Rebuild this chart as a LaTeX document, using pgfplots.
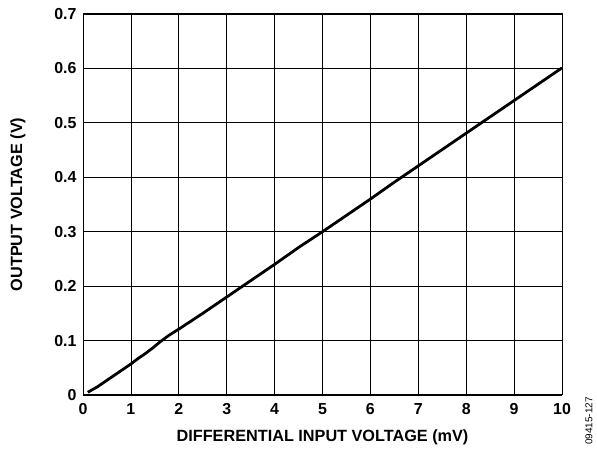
\documentclass[border=0pt]{standalone}
\usepackage{fontspec}
\setmainfont{Liberation Sans}
\usepackage{pgfplots}
\pgfplotsset{compat=1.18}

\begin{document}
\begin{tikzpicture}[x=1bp,y=1bp]
\useasboundingbox (-83,-54) rectangle (514,395);
\begin{axis}[
    scale only axis,
    width=479bp,
    height=381bp,
    at={(0,0)},
    anchor=south west,
    xmin=0, xmax=10,
    ymin=0, ymax=0.7,
    xtick={0,1,...,10},
    ytick={0,0.1,...,0.7},
    xticklabels={0,1,2,3,4,5,6,7,8,9,10},
    yticklabels={0,0.1,0.2,0.3,0.4,0.5,0.6,0.7},
    grid=major,
    grid style={black, line width=0.8pt},
    axis line style={black, line width=1pt},
    major tick length=0pt,
    tick label style={font=\fontsize{16}{18}\selectfont\bfseries},
    xticklabel style={yshift=-5bp},
    yticklabel style={xshift=-3bp},
    xlabel={DIFFERENTIAL INPUT VOLTAGE (mV)},
    ylabel={OUTPUT VOLTAGE (V)},
    label style={font=\fontsize{16.3}{18}\selectfont\bfseries},
    xlabel style={at={(axis description cs:0.5,-0.1102)}, anchor=center},
    ylabel style={at={(axis description cs:-0.1357,0.5)}, anchor=center},
]
\addplot[black, line width=2.8pt, line join=round] coordinates {
    (0.10,0.005) (0.30,0.015) (0.50,0.027) (0.70,0.039) (0.85,0.048)
    (1.00,0.057) (1.15,0.067) (1.30,0.076) (1.45,0.086) (1.60,0.097)
    (1.80,0.110) (2.00,0.121) (2.50,0.150) (3.00,0.180) (3.50,0.210)
    (4.00,0.240) (4.50,0.271) (5.00,0.300) (5.50,0.330) (6.00,0.360)
    (6.50,0.391) (7.00,0.421) (7.50,0.451) (8.00,0.481) (8.50,0.511)
    (9.00,0.541) (9.50,0.571) (10.00,0.601)
};
\end{axis}
\node[rotate=90, anchor=center, font=\fontsize{10}{12}\selectfont] at (506,-26) {09415-127};
\end{tikzpicture}
\end{document}
